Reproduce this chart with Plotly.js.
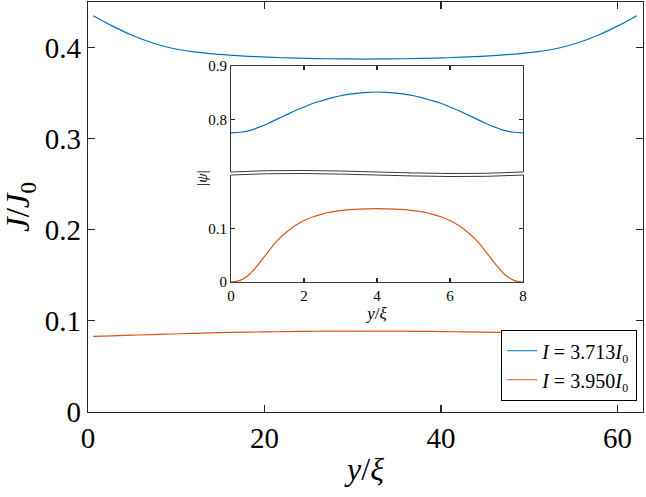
<!DOCTYPE html>
<html>
<head>
<meta charset="utf-8">
<script src="https://cdn.plot.ly/plotly-3.0.1.min.js"></script>
<style>
  html, body { margin: 0; padding: 0; background: #fff; }
  #myGraph { width: 646px; height: 497px; }
</style>
</head>
<body>
<div id="myGraph"></div>
<script>
// main plot: current density along y
const mainX = [0.6, 2.8, 5.0, 7.2, 9.4, 11.6, 13.8, 16.0, 18.2, 20.4, 22.6, 24.8, 27.0, 29.2, 31.4,
               33.6, 35.8, 38.0, 40.2, 42.4, 44.6, 46.8, 49.0, 51.2, 53.4, 55.6, 57.8, 60.0, 62.2];
const mainBlue = [0.435, 0.4235, 0.4135, 0.4055, 0.3995, 0.3958, 0.3934, 0.3917, 0.3904, 0.3894, 0.3887, 0.3881, 0.3877, 0.3875, 0.3874,
                  0.3875, 0.3877, 0.3881, 0.3887, 0.3894, 0.3904, 0.3917, 0.3934, 0.3958, 0.3995, 0.4055, 0.4135, 0.4235, 0.435];
const mainOrange = [0.083, 0.0836, 0.0843, 0.085, 0.0856, 0.0862, 0.0868, 0.0873, 0.0877, 0.088, 0.0883, 0.0885, 0.0887, 0.0888, 0.0888,
                    0.0888, 0.0887, 0.0885, 0.0883, 0.088, 0.0877, 0.0873, 0.0868, 0.0862, 0.0856, 0.085, 0.0843, 0.0836, 0.083];

// inset: |psi|
const insetX = [0, 0.25, 0.5, 0.75, 1, 1.25, 1.5, 1.75, 2, 2.25, 2.5, 2.75, 3, 3.25, 3.5, 3.75, 4,
                4.25, 4.5, 4.75, 5, 5.25, 5.5, 5.75, 6, 6.25, 6.5, 6.75, 7, 7.25, 7.5, 7.75, 8];
const insetBlue = [0.775, 0.776, 0.779, 0.785, 0.792, 0.800, 0.808, 0.816, 0.823, 0.830, 0.835, 0.840, 0.844, 0.847, 0.849, 0.8505, 0.851,
                   0.8505, 0.849, 0.847, 0.844, 0.840, 0.835, 0.830, 0.823, 0.816, 0.808, 0.800, 0.792, 0.785, 0.779, 0.776, 0.775];
const insetOrange = [0, 0.003, 0.014, 0.033, 0.055, 0.076, 0.092, 0.105, 0.115, 0.122, 0.127, 0.131, 0.1335, 0.1352, 0.1363, 0.1368, 0.137,
                     0.1368, 0.1363, 0.1352, 0.1335, 0.131, 0.127, 0.122, 0.115, 0.105, 0.092, 0.076, 0.055, 0.033, 0.014, 0.003, 0];

const names = ['<i>I</i> = 3.713<i>I</i>₀', '<i>I</i> = 3.950<i>I</i>₀'];
const colors = ['#0072BD', '#D95319'];

const axColor = '#262626';
const serif = '"Liberation Serif", "Times New Roman", serif';

// inset position (paper coords)
const insetXDom = [0.2577, 0.7838];
const lowDom = [0.3171, 0.578];
const upDom = [0.5854, 0.8446];

let data = [
    { type: 'scatter', mode: 'lines', x: mainX, y: mainBlue, name: names[0],
      line: { color: colors[0], width: 1.2, shape: 'spline', smoothing: 1 } },
    { type: 'scatter', mode: 'lines', x: mainX, y: mainOrange, name: names[1],
      line: { color: colors[1], width: 1.2, shape: 'spline', smoothing: 1 } },
    { type: 'scatter', mode: 'lines', x: insetX, y: insetBlue, xaxis: 'x3', yaxis: 'y3',
      showlegend: false, line: { color: colors[0], width: 1.2, shape: 'spline', smoothing: 1 } },
    { type: 'scatter', mode: 'lines', x: insetX, y: insetOrange, xaxis: 'x2', yaxis: 'y2',
      showlegend: false, line: { color: colors[1], width: 1.2, shape: 'spline', smoothing: 1 } }
];

function axis(extra) {
    return Object.assign({
        ticks: 'inside', tickcolor: axColor, tickwidth: 1.2,
        showline: true, linecolor: axColor, linewidth: 1.3,
        showgrid: false, zeroline: false,
        tickfont: { family: serif, color: '#000' }
    }, extra);
}

// wavy break lines between the two inset panels
function wave(y) {
    const x0 = insetXDom[0], x1 = insetXDom[1], w = x1 - x0, h = 0.013;
    return {
        type: 'path', xref: 'paper', yref: 'paper',
        path: 'M ' + x0 + ',' + y + ' C ' + (x0 + w / 3) + ',' + (y + h) + ' ' +
              (x0 + 2 * w / 3) + ',' + (y - h) + ' ' + x1 + ',' + y,
        line: { color: '#3a3a3a', width: 1 }
    };
}

let layout = {
    width: 646, height: 497,
    margin: { l: 88, r: 3, t: 2, b: 85 },
    paper_bgcolor: 'white', plot_bgcolor: 'white',
    font: { family: serif, color: '#000' },
    showlegend: true,
    legend: {
        x: 0.989, y: 0.027, xanchor: 'right', yanchor: 'bottom',
        bgcolor: 'white', bordercolor: '#000', borderwidth: 1.3,
        font: { family: serif, size: 20 }
    },
    xaxis: axis({
        domain: [0, 1], range: [0, 62.9], tickvals: [0, 20, 40, 60],
        ticklen: 7, mirror: 'ticks', tickfont: { family: serif, size: 29 },
        title: { text: '<i>y</i>/<i>ξ</i>', font: { family: serif, size: 32 }, standoff: 4 }
    }),
    yaxis: axis({
        domain: [0, 1], range: [0, 0.45], tickvals: [0, 0.1, 0.2, 0.3, 0.4],
        ticktext: ['0', '0.1', '0.2', '0.3', '0.4'],
        ticklen: 7, mirror: 'ticks', tickfont: { family: serif, size: 29 },
        title: { text: '<i>J</i>/<i>J</i><sub>0</sub>', font: { family: serif, size: 33 }, standoff: 6 }
    }),
    xaxis2: axis({
        domain: insetXDom, anchor: 'y2', range: [0, 8], tickvals: [0, 2, 4, 6, 8],
        ticklen: 4, linewidth: 1, linecolor: '#3a3a3a', tickfont: { family: serif, size: 15 },
        title: { text: '<i>y</i>/<i>ξ</i>', font: { family: serif, size: 17 }, standoff: 2 }
    }),
    yaxis2: axis({
        domain: lowDom, anchor: 'x2', range: [0, 0.2], tickvals: [0, 0.1],
        ticktext: ['0', '0.1'], ticklen: 4, mirror: 'ticks',
        linewidth: 1, linecolor: '#3a3a3a', tickfont: { family: serif, size: 15 }
    }),
    xaxis3: axis({
        domain: insetXDom, anchor: 'y3', range: [0, 8], tickvals: [0, 2, 4, 6, 8],
        side: 'top', showticklabels: false, ticklen: 4, linewidth: 1, linecolor: '#3a3a3a'
    }),
    yaxis3: axis({
        domain: upDom, anchor: 'x3', range: [0.702, 0.9], tickvals: [0.8, 0.9],
        ticklen: 4, mirror: 'ticks', linewidth: 1, linecolor: '#3a3a3a',
        tickfont: { family: serif, size: 15 }
    }),
    shapes: [wave(upDom[0]), wave(lowDom[1])],
    annotations: [{
        xref: 'paper', yref: 'paper', x: 0.187, y: 0.571, showarrow: false,
        text: '|<i>ψ</i>|', textangle: -90, font: { family: serif, size: 15 }
    }]
};

Plotly.newPlot('myGraph', data, layout, { displayModeBar: false, staticPlot: true });
</script>
</body>
</html>
